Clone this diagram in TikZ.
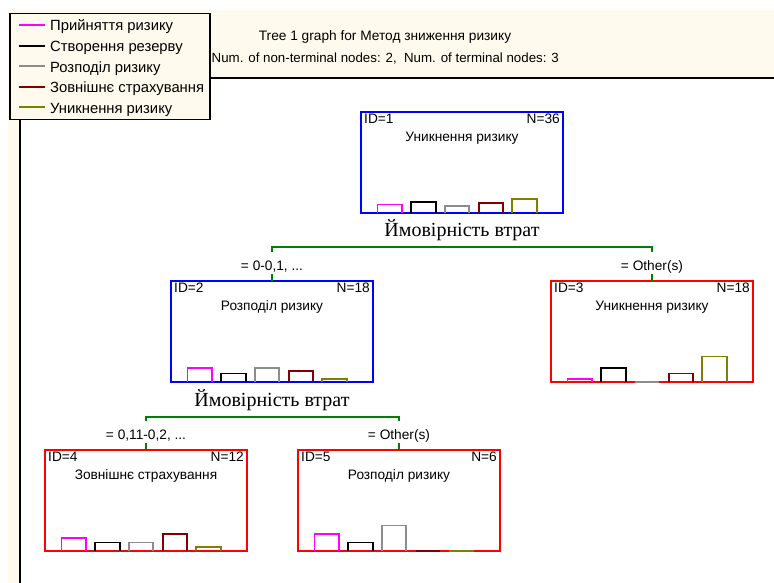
\documentclass[tikz,border=0pt]{standalone}
\usepackage{fontspec}
\setmainfont{Liberation Sans}
\newfontfamily\splitfont{Liberation Serif}
\usetikzlibrary{positioning}
\definecolor{cream}{RGB}{255,250,238}
\definecolor{cPink}{RGB}{255,0,255}
\definecolor{cGray}{RGB}{140,140,140}
\definecolor{cRed}{RGB}{128,0,0}
\definecolor{cOlive}{RGB}{128,128,0}
\definecolor{cGreen}{RGB}{0,128,0}
\newcommand{\gfont}{\fontsize{13.7}{16}\selectfont}
\newcommand{\lfont}{\fontsize{14.8}{17}\selectfont}
\tikzset{
  treebox/.style={draw,line width=1.8pt,minimum width=202pt,minimum height=101pt,inner sep=0pt,outer sep=0pt},
  bar/.style={line width=1.8pt,line join=miter},
  branch/.style={line width=1.8pt,cGreen},
  splitlab/.style={anchor=base,inner sep=0pt,font=\splitfont\fontsize{20}{22}\selectfont},
  edgelab/.style={anchor=base,inner sep=0pt,fill=white,text height=18pt,text depth=4pt}
}
% ID, N and class name of a tree node
\newcommand{\nodetext}[4]{%
  \node[anchor=base west,inner sep=0pt] (#1id) at ([xshift=3pt,yshift=-11.5pt]#1.north west) {ID=#2};
  \node[anchor=base east,inner sep=0pt] (#1n) at ([xshift=-3pt,yshift=-11.5pt]#1.north east) {N=#3};
  \node[anchor=base,inner sep=0pt] (#1cls) at ([yshift=-29.5pt]#1.north) {#4};
}
% class histogram inside a tree node
\newcommand{\classbars}[6]{%
  \foreach \col/\h [count=\i from 0] in {cPink/#2,black/#3,cGray/#4,cRed/#5,cOlive/#6}
    \draw[bar,draw=\col] ([xshift=16.5+33.7*\i]#1.south west) -- ++(0,-\h) -- ++(24.4,0) -- ++(0,\h);
}
\begin{document}
\begin{tikzpicture}[x=1pt,y=-1pt,every node/.style={font=\gfont}]
\useasboundingbox (0,0) rectangle (774,583);
% graph frame
\fill[cream] (8,10) rectangle (774,78);
\fill[cream] (8,78) rectangle (19,583);
\draw[line width=2pt] (19.5,583) -- (19.5,78) -- (774,78);
% legend
\node[draw,line width=1.5pt,fill=cream,anchor=north west,minimum width=200pt,minimum height=106pt] (legend) at (9,13) {};
\foreach \col/\txt [count=\i from 0] in {cPink/Прийняття ризику,black/Створення резерву,cGray/Розподіл ризику,cRed/Зовнішнє страхування,cOlive/Уникнення ризику} {
  \draw[\col,line width=2pt] (19,25+20.6*\i) -- (45,25+20.6*\i);
  \node[anchor=base west,inner sep=0pt,font=\lfont] (leg\i) at (50,31+20.6*\i) {\txt};
}
\node[anchor=base,inner sep=0pt] (title) at (385,40.5) {Tree 1 graph for Метод зниження ризику};
\node[anchor=base west,inner sep=0pt,font=\fontsize{13.3}{16}\selectfont] (subtitle) at (211.5,63) {Num. of non-terminal nodes: 2,\ \ Num. of terminal nodes: 3};
% tree
\node[treebox,draw=blue] (n1) at (462,162.5) {};
\node[treebox,draw=blue] (n2) at (272,331.5) {};
\node[treebox,draw=red] (n3) at (652,331.5) {};
\node[treebox,draw=red] (n4) at (146,500.5) {};
\node[treebox,draw=red] (n5) at (399,500.5) {};
\nodetext{n1}{1}{36}{Уникнення ризику}
\nodetext{n2}{2}{18}{Розподіл ризику}
\nodetext{n3}{3}{18}{Уникнення ризику}
\nodetext{n4}{4}{12}{Зовнішнє страхування}
\nodetext{n5}{5}{6}{Розподіл ризику}
\classbars{n1}{8.5}{11.3}{7.1}{9.9}{14.2}
\classbars{n2}{14.2}{8.5}{14.2}{11.3}{2.8}
\classbars{n3}{2.8}{14.2}{0}{8.5}{25.5}
\classbars{n4}{12.75}{8.5}{8.5}{17}{4.25}
\classbars{n5}{17}{8.5}{25.5}{0}{0}
% splits
\node[splitlab] (s1) at (462,236) {Ймовірність втрат};
\node[splitlab] (s2) at (272,406.5) {Ймовірність втрат};
\coordinate (b1) at (462,247);
\coordinate (b2) at (272,417);
\draw[branch] (n2.north) |- (b1) -| (n3.north);
\draw[branch] (n4.north) |- (b2) -| (n5.north);
\node[edgelab] (e2) at (272,270) {= 0-0,1, ...};
\node[edgelab] (e3) at (652,270) {= Other(s)};
\node[edgelab] (e4) at (146,439) {= 0,11-0,2, ...};
\node[edgelab] (e5) at (399,439) {= Other(s)};
\end{tikzpicture}
\end{document}
